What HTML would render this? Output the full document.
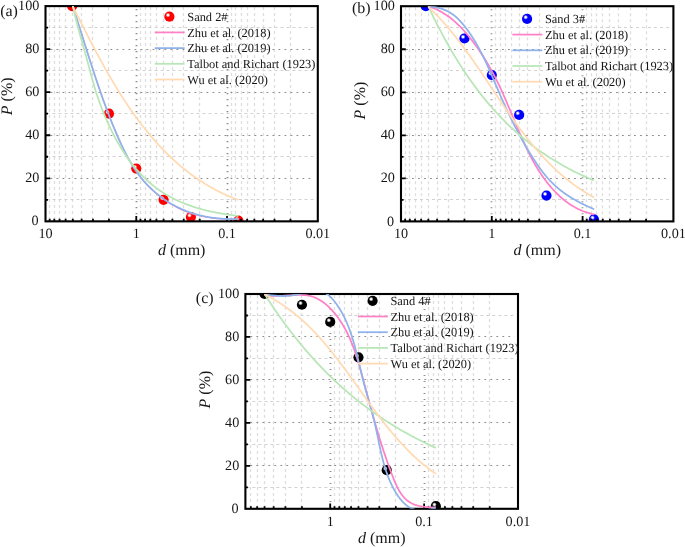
<!DOCTYPE html>
<html lang="en">
<head>
<meta charset="utf-8">
<title>Gradation curves</title>
<style>
html,body{margin:0;padding:0;background:#fff;}
body{width:685px;height:547px;overflow:hidden;font-family:"Liberation Serif",serif;}
svg{display:block;will-change:transform;transform:translateZ(0);}
</style>
</head>
<body>
<svg width="685" height="547" viewBox="0 0 685 547" font-family="'Liberation Serif', serif" fill="#161616" text-rendering="geometricPrecision">
<defs>
<radialGradient id="ball-a" cx="0.36" cy="0.34" r="0.5" fx="0.36" fy="0.34"><stop offset="0" stop-color="#ffffff"/><stop offset="0.14" stop-color="#ffffff" stop-opacity="0.95"/><stop offset="0.46" stop-color="#ff0000"/><stop offset="1" stop-color="#ff0000"/></radialGradient>
<radialGradient id="ball-b" cx="0.36" cy="0.34" r="0.5" fx="0.36" fy="0.34"><stop offset="0" stop-color="#ffffff"/><stop offset="0.14" stop-color="#ffffff" stop-opacity="0.95"/><stop offset="0.46" stop-color="#0000ff"/><stop offset="1" stop-color="#0000ff"/></radialGradient>
<radialGradient id="ball-c" cx="0.36" cy="0.34" r="0.5" fx="0.36" fy="0.34"><stop offset="0" stop-color="#ffffff"/><stop offset="0.14" stop-color="#ffffff" stop-opacity="0.95"/><stop offset="0.46" stop-color="#000000"/><stop offset="1" stop-color="#000000"/></radialGradient>
</defs>
<rect width="685" height="547" fill="#fff"/>
<g id="panel-a">
<clipPath id="clip-a"><rect x="45.5" y="6.1" width="272.3" height="215.25"/></clipPath>
<path d="M108.5 7.1 V220.35 M92.5 7.1 V220.35 M81.5 7.1 V220.35 M72.5 7.1 V220.35 M65.5 7.1 V220.35 M59.5 7.1 V220.35 M54.5 7.1 V220.35 M49.5 7.1 V220.35 M199.5 7.1 V220.35 M183.5 7.1 V220.35 M172.5 7.1 V220.35 M163.5 7.1 V220.35 M156.5 7.1 V220.35 M150.5 7.1 V220.35 M145.5 7.1 V220.35 M140.5 7.1 V220.35 M290.5 7.1 V220.35 M274.5 7.1 V220.35 M263.5 7.1 V220.35 M254.5 7.1 V220.35 M247.5 7.1 V220.35 M241.5 7.1 V220.35 M235.5 7.1 V220.35 M231.5 7.1 V220.35" fill="none" stroke="#dedede" stroke-width="1.3" stroke-dasharray="3 3"/>
<path d="M46.5 199.5 H314.3 M46.5 156.5 H314.3 M46.5 113.5 H314.3 M46.5 70.5 H314.3 M46.5 27.5 H314.3" fill="none" stroke="#d2d2d2" stroke-width="1" stroke-dasharray="3 3"/>
<path d="M136.5 9.1 V220.35 M227.5 9.1 V220.35" fill="none" stroke="#8c8c8c" stroke-width="1.8" stroke-dasharray="1.1 4.9"/>
<path d="M50.5 178.5 H314.3 M50.5 135.5 H314.3 M50.5 92.5 H314.3 M50.5 49.5 H314.3" fill="none" stroke="#8c8c8c" stroke-width="1" stroke-dasharray="1.8 4.2"/>
<g clip-path="url(#clip-a)">
<circle cx="72.12" cy="6.1" r="5.1" fill="url(#ball-a)"/>
<circle cx="108.94" cy="113.72" r="5.1" fill="url(#ball-a)"/>
<circle cx="136.27" cy="168.61" r="5.1" fill="url(#ball-a)"/>
<circle cx="163.59" cy="199.82" r="5.1" fill="url(#ball-a)"/>
<circle cx="190.91" cy="217.04" r="5.1" fill="url(#ball-a)"/>
<circle cx="238.37" cy="220.49" r="5.1" fill="url(#ball-a)"/>
</g>
<path d="M108.94 221.35 V218.75 M92.96 221.35 V218.75 M81.62 221.35 V218.75 M72.82 221.35 V218.75 M65.64 221.35 V218.75 M59.56 221.35 V218.75 M54.3 221.35 V218.75 M49.65 221.35 V218.75 M199.71 221.35 V218.75 M183.73 221.35 V218.75 M172.39 221.35 V218.75 M163.59 221.35 V218.75 M156.4 221.35 V218.75 M150.33 221.35 V218.75 M145.06 221.35 V218.75 M140.42 221.35 V218.75 M290.48 221.35 V218.75 M274.49 221.35 V218.75 M263.15 221.35 V218.75 M254.36 221.35 V218.75 M247.17 221.35 V218.75 M241.09 221.35 V218.75 M235.83 221.35 V218.75 M231.19 221.35 V218.75 M136.27 221.35 V216.05 M227.03 221.35 V216.05 M45.5 199.82 H48 M45.5 156.77 H48 M45.5 113.72 H48 M45.5 70.68 H48 M45.5 27.62 H48 M45.5 178.3 H50.3 M45.5 135.25 H50.3 M45.5 92.2 H50.3 M45.5 49.15 H50.3" fill="none" stroke="#000" stroke-width="1.8"/>
<rect x="45.5" y="6.1" width="272.3" height="215.25" fill="none" stroke="#000" stroke-width="2.1"/>
<g clip-path="url(#clip-a)" fill="none" stroke-width="1.75" stroke-linejoin="round">
<path d="M72.7 6.1 L73.16 7.52 L73.63 8.94 L74.09 10.37 L74.55 11.79 L75 13.21 L75.46 14.63 L75.92 16.05 L76.37 17.47 L76.82 18.89 L77.28 20.31 L77.73 21.73 L78.18 23.14 L78.63 24.56 L79.07 25.98 L79.52 27.39 L79.97 28.81 L80.42 30.23 L80.86 31.64 L81.31 33.05 L81.75 34.47 L82.2 35.88 L82.64 37.3 L83.09 38.71 L83.53 40.12 L83.97 41.53 L84.42 42.94 L84.86 44.35 L85.31 45.77 L85.75 47.18 L86.2 48.59 L86.64 49.99 L87.09 51.4 L87.53 52.81 L87.98 54.22 L88.43 55.63 L88.88 57.04 L89.33 58.44 L89.77 59.85 L90.23 61.25 L90.68 62.66 L91.13 64.07 L91.58 65.47 L92.04 66.88 L92.49 68.28 L92.95 69.68 L93.41 71.09 L93.87 72.49 L94.33 73.89 L94.79 75.3 L95.26 76.7 L95.72 78.1 L96.19 79.5 L96.66 80.9 L97.13 82.3 L97.6 83.71 L98.08 85.11 L98.56 86.51 L99.04 87.9 L99.52 89.3 L100 90.7 L100.49 92.1 L100.98 93.5 L101.47 94.9 L101.96 96.3 L102.46 97.69 L102.96 99.09 L103.46 100.49 L103.96 101.88 L104.47 103.28 L104.98 104.67 L105.5 106.07 L106.01 107.46 L106.53 108.86 L107.06 110.25 L107.58 111.64 L108.11 113.03 L108.65 114.42 L109.18 115.81 L109.72 117.2 L110.27 118.59 L110.82 119.98 L111.37 121.37 L111.92 122.75 L112.48 124.14 L113.05 125.52 L113.62 126.91 L114.19 128.29 L114.77 129.67 L115.35 131.05 L115.93 132.43 L116.52 133.81 L117.12 135.19 L117.72 136.56 L118.32 137.94 L118.93 139.31 L119.55 140.68 L120.17 142.05 L120.8 143.42 L121.43 144.78 L122.07 146.14 L122.72 147.5 L123.37 148.85 L124.04 150.2 L124.71 151.54 L125.39 152.88 L126.07 154.21 L126.77 155.53 L127.48 156.85 L128.19 158.17 L128.92 159.47 L129.65 160.77 L130.4 162.06 L131.16 163.34 L131.93 164.61 L132.71 165.88 L133.5 167.13 L134.3 168.38 L135.12 169.61 L135.95 170.84 L136.79 172.05 L137.65 173.26 L138.51 174.45 L139.4 175.63 L140.3 176.8 L141.21 177.96 L142.14 179.1 L143.08 180.23 L144.03 181.35 L145.01 182.46 L145.99 183.55 L146.99 184.63 L148.01 185.7 L149.04 186.75 L150.08 187.79 L151.13 188.81 L152.2 189.83 L153.29 190.83 L154.38 191.81 L155.49 192.78 L156.61 193.74 L157.75 194.68 L158.89 195.61 L160.05 196.52 L161.22 197.42 L162.41 198.31 L163.6 199.18 L164.81 200.03 L166.03 200.87 L167.26 201.69 L168.5 202.5 L169.75 203.29 L171.01 204.06 L172.29 204.82 L173.57 205.56 L174.86 206.28 L176.17 206.99 L177.48 207.67 L178.81 208.34 L180.14 208.99 L181.48 209.61 L182.84 210.22 L184.2 210.81 L185.57 211.37 L186.95 211.92 L188.34 212.44 L189.74 212.94 L191.14 213.41 L192.55 213.87 L193.98 214.3 L195.4 214.71 L196.84 215.1 L198.28 215.47 L199.73 215.82 L201.18 216.14 L202.64 216.45 L204.11 216.74 L205.58 217.01 L207.05 217.26 L208.53 217.49 L210.01 217.71 L211.49 217.91 L212.98 218.09 L214.47 218.26 L215.96 218.42 L217.45 218.55 L218.95 218.68 L220.44 218.79 L221.94 218.89 L223.43 218.97 L224.93 219.04 L226.42 219.1 L227.92 219.14 L229.41 219.17 L230.9 219.19 L232.39 219.19 L233.87 219.19 L235.36 219.17 L236.84 219.14 L238.31 219.1" stroke="#ff80c7" stroke-width="1.2"/>
<path d="M72.7 6.1 L73.16 7.52 L73.63 8.94 L74.09 10.37 L74.55 11.79 L75 13.21 L75.46 14.63 L75.92 16.05 L76.37 17.47 L76.82 18.89 L77.28 20.31 L77.73 21.73 L78.18 23.14 L78.63 24.56 L79.07 25.98 L79.52 27.39 L79.97 28.81 L80.42 30.23 L80.86 31.64 L81.31 33.05 L81.75 34.47 L82.2 35.88 L82.64 37.3 L83.09 38.71 L83.53 40.12 L83.97 41.53 L84.42 42.94 L84.86 44.35 L85.31 45.77 L85.75 47.18 L86.2 48.59 L86.64 49.99 L87.09 51.4 L87.53 52.81 L87.98 54.22 L88.43 55.63 L88.88 57.04 L89.33 58.44 L89.77 59.85 L90.23 61.25 L90.68 62.66 L91.13 64.07 L91.58 65.47 L92.04 66.88 L92.49 68.28 L92.95 69.68 L93.41 71.09 L93.87 72.49 L94.33 73.89 L94.79 75.3 L95.26 76.7 L95.72 78.1 L96.19 79.5 L96.66 80.9 L97.13 82.3 L97.6 83.71 L98.08 85.11 L98.56 86.51 L99.04 87.9 L99.52 89.3 L100 90.7 L100.49 92.1 L100.98 93.5 L101.47 94.9 L101.96 96.3 L102.46 97.69 L102.96 99.09 L103.46 100.49 L103.96 101.88 L104.47 103.28 L104.98 104.67 L105.5 106.07 L106.01 107.46 L106.53 108.86 L107.06 110.25 L107.58 111.64 L108.11 113.03 L108.65 114.42 L109.18 115.81 L109.72 117.2 L110.27 118.59 L110.82 119.98 L111.37 121.37 L111.92 122.75 L112.48 124.14 L113.05 125.52 L113.62 126.91 L114.19 128.29 L114.77 129.67 L115.35 131.05 L115.93 132.43 L116.52 133.81 L117.12 135.19 L117.72 136.56 L118.32 137.94 L118.93 139.31 L119.55 140.68 L120.17 142.05 L120.8 143.42 L121.43 144.78 L122.07 146.14 L122.72 147.5 L123.37 148.85 L124.04 150.2 L124.71 151.54 L125.39 152.87 L126.07 154.21 L126.77 155.53 L127.48 156.85 L128.19 158.16 L128.92 159.47 L129.65 160.76 L130.4 162.05 L131.16 163.33 L131.93 164.6 L132.71 165.87 L133.5 167.12 L134.3 168.37 L135.12 169.6 L135.95 170.82 L136.79 172.04 L137.65 173.24 L138.51 174.43 L139.4 175.61 L140.3 176.77 L141.21 177.93 L142.14 179.07 L143.08 180.19 L144.03 181.31 L145.01 182.41 L145.99 183.5 L146.99 184.57 L148.01 185.63 L149.04 186.67 L150.08 187.7 L151.13 188.72 L152.2 189.72 L153.29 190.71 L154.38 191.68 L155.49 192.64 L156.61 193.58 L157.75 194.51 L158.89 195.42 L160.05 196.32 L161.22 197.2 L162.41 198.06 L163.6 198.91 L164.81 199.74 L166.03 200.56 L167.26 201.36 L168.5 202.14 L169.75 202.91 L171.01 203.65 L172.29 204.39 L173.57 205.1 L174.86 205.8 L176.17 206.48 L177.48 207.14 L178.81 207.79 L180.14 208.41 L181.48 209.02 L182.84 209.61 L184.2 210.18 L185.57 210.74 L186.95 211.27 L188.34 211.79 L189.74 212.29 L191.14 212.76 L192.55 213.22 L193.98 213.66 L195.4 214.09 L196.84 214.49 L198.28 214.87 L199.73 215.24 L201.18 215.59 L202.64 215.92 L204.11 216.24 L205.58 216.53 L207.05 216.81 L208.53 217.07 L210.01 217.32 L211.49 217.55 L212.98 217.76 L214.47 217.96 L215.96 218.14 L217.45 218.31 L218.95 218.46 L220.44 218.59 L221.94 218.71 L223.43 218.81 L224.93 218.9 L226.42 218.98 L227.92 219.04 L229.41 219.08 L230.9 219.11 L232.39 219.13 L233.87 219.13 L235.36 219.12 L236.84 219.1 L238.31 219.06" stroke="#8fb2ea"/>
<path d="M72.89 6.1 L75.12 15.94 L77.44 25.33 L79.86 34.29 L82.29 42.83 L84.63 50.99 L86.8 58.78 L88.79 66.21 L90.67 73.3 L92.5 80.07 L94.35 86.52 L96.24 92.69 L98.2 98.57 L100.2 104.18 L102.23 109.53 L104.3 114.64 L106.37 119.52 L108.46 124.17 L110.55 128.62 L112.64 132.85 L114.74 136.9 L116.83 140.76 L118.93 144.44 L121.02 147.96 L123.12 151.31 L125.21 154.51 L127.31 157.57 L129.4 160.48 L131.5 163.26 L133.6 165.92 L135.69 168.45 L137.79 170.87 L139.88 173.18 L141.98 175.38 L144.07 177.48 L146.17 179.49 L148.26 181.4 L150.36 183.22 L152.46 184.97 L154.55 186.63 L156.65 188.22 L158.74 189.73 L160.84 191.18 L162.93 192.56 L165.03 193.87 L167.12 195.13 L169.22 196.33 L171.32 197.47 L173.41 198.56 L175.51 199.6 L177.6 200.6 L179.7 201.54 L181.79 202.45 L183.89 203.31 L185.98 204.14 L188.08 204.92 L190.18 205.68 L192.27 206.39 L194.37 207.08 L196.46 207.73 L198.56 208.35 L200.65 208.94 L202.75 209.51 L204.84 210.05 L206.94 210.57 L209.04 211.06 L211.13 211.53 L213.23 211.98 L215.32 212.41 L217.42 212.82 L219.51 213.21 L221.61 213.58 L223.7 213.93 L225.8 214.27 L227.9 214.6 L229.99 214.91 L232.09 215.2 L234.18 215.48 L236.28 215.75 L238.37 216.01" stroke="#b8e6b6"/>
<path d="M72.69 6.11 L73.27 7.25 L73.84 8.4 L74.42 9.54 L74.99 10.69 L75.57 11.84 L76.14 12.99 L76.72 14.14 L77.3 15.29 L77.88 16.45 L78.46 17.6 L79.04 18.76 L79.63 19.92 L80.21 21.08 L80.8 22.24 L81.38 23.4 L81.97 24.56 L82.56 25.72 L83.15 26.88 L83.74 28.05 L84.33 29.21 L84.92 30.38 L85.52 31.54 L86.11 32.71 L86.71 33.88 L87.31 35.05 L87.91 36.21 L88.51 37.38 L89.12 38.55 L89.72 39.72 L90.33 40.89 L90.93 42.06 L91.54 43.23 L92.15 44.4 L92.77 45.57 L93.38 46.74 L94 47.91 L94.62 49.08 L95.24 50.25 L95.86 51.42 L96.48 52.59 L97.11 53.75 L97.73 54.92 L98.36 56.09 L98.99 57.26 L99.63 58.42 L100.26 59.59 L100.9 60.76 L101.54 61.92 L102.18 63.08 L102.82 64.25 L103.47 65.41 L104.11 66.57 L104.76 67.73 L105.41 68.89 L106.07 70.05 L106.73 71.21 L107.38 72.36 L108.05 73.52 L108.71 74.67 L109.37 75.82 L110.04 76.97 L110.71 78.12 L111.39 79.27 L112.06 80.42 L112.74 81.56 L113.42 82.71 L114.11 83.85 L114.79 84.99 L115.48 86.13 L116.17 87.26 L116.87 88.4 L117.56 89.53 L118.26 90.66 L118.96 91.79 L119.67 92.92 L120.38 94.04 L121.09 95.16 L121.8 96.28 L122.52 97.4 L123.24 98.52 L123.96 99.63 L124.69 100.74 L125.42 101.85 L126.15 102.96 L126.88 104.06 L127.62 105.16 L128.36 106.26 L129.11 107.35 L129.86 108.44 L130.61 109.53 L131.36 110.62 L132.12 111.7 L132.88 112.79 L133.65 113.86 L134.41 114.94 L135.19 116.01 L135.96 117.08 L136.74 118.14 L137.52 119.2 L138.31 120.26 L139.09 121.32 L139.89 122.37 L140.68 123.42 L141.48 124.46 L142.29 125.5 L143.09 126.54 L143.9 127.57 L144.72 128.6 L145.54 129.63 L146.36 130.65 L147.19 131.67 L148.02 132.68 L148.85 133.69 L149.69 134.7 L150.53 135.7 L151.37 136.7 L152.22 137.69 L153.08 138.68 L153.94 139.67 L154.8 140.65 L155.66 141.62 L156.54 142.6 L157.41 143.56 L158.29 144.53 L159.17 145.49 L160.06 146.44 L160.95 147.39 L161.85 148.33 L162.75 149.27 L163.65 150.21 L164.56 151.13 L165.47 152.06 L166.39 152.98 L167.32 153.89 L168.24 154.8 L169.17 155.71 L170.11 156.61 L171.05 157.5 L172 158.39 L172.95 159.27 L173.9 160.15 L174.86 161.02 L175.83 161.89 L176.8 162.75 L177.77 163.6 L178.75 164.45 L179.73 165.3 L180.72 166.13 L181.72 166.97 L182.72 167.79 L183.72 168.61 L184.73 169.43 L185.74 170.24 L186.76 171.04 L187.78 171.83 L188.81 172.62 L189.85 173.41 L190.89 174.18 L191.93 174.96 L192.98 175.72 L194.04 176.48 L195.1 177.23 L196.16 177.97 L197.24 178.71 L198.31 179.45 L199.39 180.17 L200.48 180.89 L201.57 181.6 L202.67 182.31 L203.78 183 L204.89 183.69 L206 184.38 L207.12 185.05 L208.25 185.72 L209.38 186.39 L210.52 187.04 L211.66 187.69 L212.81 188.33 L213.97 188.96 L215.13 189.59 L216.3 190.21 L217.47 190.82 L218.65 191.42 L219.83 192.02 L221.02 192.61 L222.22 193.19 L223.42 193.76 L224.63 194.33 L225.85 194.88 L227.07 195.43 L228.29 195.97 L229.53 196.51 L230.77 197.03 L232.01 197.55 L233.26 198.06 L234.52 198.56 L235.79 199.05 L237.06 199.53 L238.33 200.01" stroke="#ffdab3"/>
</g>
<text x="38.6" y="225.45" text-anchor="end" font-size="14.2">0</text>
<text x="39.4" y="182.4" text-anchor="end" font-size="14.2">20</text>
<text x="39.4" y="139.35" text-anchor="end" font-size="14.2">40</text>
<text x="39.4" y="96.3" text-anchor="end" font-size="14.2">60</text>
<text x="39.4" y="53.25" text-anchor="end" font-size="14.2">80</text>
<text x="39.4" y="10.2" text-anchor="end" font-size="14.2">100</text>
<text x="45.5" y="238.35" text-anchor="middle" font-size="14.2">10</text>
<text x="136.27" y="238.35" text-anchor="middle" font-size="14.2">1</text>
<text x="227.03" y="238.35" text-anchor="middle" font-size="14.2">0.1</text>
<text x="317.8" y="238.35" text-anchor="middle" font-size="14.2">0.01</text>
<text x="181.65" y="255.35" text-anchor="middle" font-size="16"><tspan font-style="italic">d</tspan> (mm)</text>
<text transform="translate(12.2 96.3) rotate(-90)" text-anchor="middle" font-size="16"><tspan font-style="italic">P</tspan> (%)</text>
<text x="0.2" y="16.3" font-size="16">(a)</text>
<circle cx="169.4" cy="16.7" r="5.1" fill="url(#ball-a)"/>
<text x="187.25" y="20.8" font-size="12.4">Sand 2#</text>
<path d="M154.7 32.4 H184.6" stroke="#ff80c7" stroke-width="1.75" fill="none"/>
<text x="187.25" y="36.5" font-size="12.4">Zhu et al. (2018)</text>
<path d="M154.7 48.1 H184.6" stroke="#8fb2ea" stroke-width="1.75" fill="none"/>
<text x="187.25" y="52.2" font-size="12.4">Zhu et al. (2019)</text>
<path d="M154.7 63.8 H184.6" stroke="#b8e6b6" stroke-width="1.75" fill="none"/>
<text x="187.25" y="67.9" font-size="12.4">Talbot and Richart (1923)</text>
<path d="M154.7 79.5 H184.6" stroke="#ffdab3" stroke-width="1.75" fill="none"/>
<text x="187.25" y="83.6" font-size="12.4">Wu et al. (2020)</text>
</g>
<g id="panel-b">
<clipPath id="clip-b"><rect x="401" y="6.2" width="272.4" height="215.2"/></clipPath>
<path d="M464.5 7.2 V220.4 M448.5 7.2 V220.4 M437.5 7.2 V220.4 M428.5 7.2 V220.4 M421.5 7.2 V220.4 M415.5 7.2 V220.4 M409.5 7.2 V220.4 M405.5 7.2 V220.4 M555.5 7.2 V220.4 M539.5 7.2 V220.4 M527.5 7.2 V220.4 M519.5 7.2 V220.4 M511.5 7.2 V220.4 M505.5 7.2 V220.4 M500.5 7.2 V220.4 M495.5 7.2 V220.4 M646.5 7.2 V220.4 M630.5 7.2 V220.4 M618.5 7.2 V220.4 M609.5 7.2 V220.4 M602.5 7.2 V220.4 M596.5 7.2 V220.4 M591.5 7.2 V220.4 M586.5 7.2 V220.4" fill="none" stroke="#dedede" stroke-width="1.3" stroke-dasharray="3 3"/>
<path d="M402 199.5 H669.9 M402 156.5 H669.9 M402 113.5 H669.9 M402 70.5 H669.9 M402 27.5 H669.9" fill="none" stroke="#d2d2d2" stroke-width="1" stroke-dasharray="3 3"/>
<path d="M491.5 9.2 V220.4 M582.5 9.2 V220.4" fill="none" stroke="#8c8c8c" stroke-width="1.8" stroke-dasharray="1.1 4.9"/>
<path d="M406 178.5 H669.9 M406 135.5 H669.9 M406 92.5 H669.9 M406 49.5 H669.9" fill="none" stroke="#8c8c8c" stroke-width="1" stroke-dasharray="1.8 4.2"/>
<g clip-path="url(#clip-b)">
<circle cx="425.81" cy="6.2" r="5.1" fill="url(#ball-b)"/>
<circle cx="464.47" cy="38.48" r="5.1" fill="url(#ball-b)"/>
<circle cx="491.8" cy="75.06" r="5.1" fill="url(#ball-b)"/>
<circle cx="519.13" cy="114.88" r="5.1" fill="url(#ball-b)"/>
<circle cx="546.47" cy="195.58" r="5.1" fill="url(#ball-b)"/>
<circle cx="593.94" cy="219.25" r="5.1" fill="url(#ball-b)"/>
</g>
<path d="M464.47 221.4 V218.8 M448.48 221.4 V218.8 M437.13 221.4 V218.8 M428.33 221.4 V218.8 M421.14 221.4 V218.8 M415.07 221.4 V218.8 M409.8 221.4 V218.8 M405.15 221.4 V218.8 M555.27 221.4 V218.8 M539.28 221.4 V218.8 M527.93 221.4 V218.8 M519.13 221.4 V218.8 M511.94 221.4 V218.8 M505.87 221.4 V218.8 M500.6 221.4 V218.8 M495.95 221.4 V218.8 M646.07 221.4 V218.8 M630.08 221.4 V218.8 M618.73 221.4 V218.8 M609.93 221.4 V218.8 M602.74 221.4 V218.8 M596.67 221.4 V218.8 M591.4 221.4 V218.8 M586.75 221.4 V218.8 M491.8 221.4 V216.1 M582.6 221.4 V216.1 M401 199.88 H403.5 M401 156.84 H403.5 M401 113.8 H403.5 M401 70.76 H403.5 M401 27.72 H403.5 M401 178.36 H405.8 M401 135.32 H405.8 M401 92.28 H405.8 M401 49.24 H405.8" fill="none" stroke="#000" stroke-width="1.8"/>
<rect x="401" y="6.2" width="272.4" height="215.2" fill="none" stroke="#000" stroke-width="2.1"/>
<g clip-path="url(#clip-b)" fill="none" stroke-width="1.75" stroke-linejoin="round">
<path d="M428.3 6.39 L429.66 6.81 L431 7.26 L432.32 7.73 L433.63 8.24 L434.91 8.77 L436.19 9.32 L437.44 9.9 L438.68 10.51 L439.91 11.14 L441.11 11.8 L442.31 12.47 L443.48 13.18 L444.65 13.9 L445.8 14.64 L446.93 15.41 L448.05 16.2 L449.16 17 L450.25 17.82 L451.33 18.67 L452.39 19.53 L453.45 20.41 L454.49 21.3 L455.52 22.21 L456.53 23.14 L457.54 24.08 L458.53 25.03 L459.51 26 L460.48 26.98 L461.44 27.98 L462.39 28.98 L463.33 30 L464.26 31.02 L465.17 32.06 L466.08 33.11 L466.98 34.16 L467.87 35.23 L468.75 36.3 L469.62 37.38 L470.49 38.46 L471.34 39.55 L472.19 40.64 L473.03 41.75 L473.86 42.85 L474.69 43.96 L475.5 45.08 L476.31 46.2 L477.11 47.33 L477.91 48.46 L478.69 49.6 L479.47 50.74 L480.24 51.89 L481.01 53.04 L481.77 54.19 L482.52 55.35 L483.26 56.52 L484 57.69 L484.73 58.86 L485.45 60.04 L486.17 61.22 L486.88 62.41 L487.58 63.6 L488.28 64.8 L488.97 65.99 L489.65 67.2 L490.33 68.4 L491.01 69.62 L491.67 70.83 L492.34 72.05 L492.99 73.27 L493.64 74.49 L494.29 75.72 L494.92 76.95 L495.56 78.19 L496.19 79.43 L496.81 80.67 L497.43 81.91 L498.04 83.16 L498.65 84.41 L499.25 85.66 L499.85 86.92 L500.44 88.18 L501.03 89.44 L501.62 90.71 L502.2 91.97 L502.77 93.24 L503.34 94.51 L503.91 95.79 L504.48 97.06 L505.04 98.34 L505.59 99.62 L506.15 100.9 L506.7 102.18 L507.25 103.47 L507.79 104.75 L508.34 106.04 L508.88 107.33 L509.42 108.61 L509.96 109.9 L510.49 111.19 L511.03 112.48 L511.57 113.77 L512.1 115.06 L512.63 116.35 L513.17 117.64 L513.7 118.93 L514.24 120.22 L514.77 121.51 L515.31 122.8 L515.85 124.09 L516.38 125.38 L516.92 126.66 L517.46 127.95 L518.01 129.23 L518.55 130.51 L519.1 131.79 L519.65 133.07 L520.2 134.35 L520.75 135.62 L521.31 136.9 L521.87 138.17 L522.44 139.44 L523.01 140.7 L523.58 141.96 L524.16 143.22 L524.74 144.48 L525.32 145.74 L525.92 146.99 L526.51 148.23 L527.11 149.48 L527.72 150.72 L528.33 151.96 L528.95 153.19 L529.58 154.42 L530.21 155.64 L530.85 156.86 L531.49 158.08 L532.15 159.29 L532.81 160.5 L533.47 161.7 L534.15 162.9 L534.83 164.09 L535.52 165.28 L536.22 166.46 L536.93 167.64 L537.65 168.81 L538.37 169.97 L539.11 171.13 L539.86 172.28 L540.61 173.43 L541.38 174.57 L542.15 175.7 L542.94 176.83 L543.73 177.95 L544.54 179.07 L545.36 180.17 L546.19 181.27 L547.03 182.37 L547.88 183.45 L548.75 184.53 L549.62 185.59 L550.51 186.65 L551.41 187.7 L552.32 188.73 L553.25 189.76 L554.18 190.77 L555.13 191.77 L556.1 192.76 L557.07 193.73 L558.06 194.69 L559.06 195.64 L560.07 196.57 L561.1 197.48 L562.14 198.38 L563.19 199.26 L564.26 200.13 L565.34 200.98 L566.43 201.8 L567.54 202.62 L568.66 203.41 L569.8 204.18 L570.95 204.93 L572.11 205.66 L573.29 206.37 L574.49 207.06 L575.69 207.73 L576.92 208.37 L578.16 208.99 L579.41 209.58 L580.68 210.15 L581.96 210.7 L583.26 211.22 L584.57 211.71 L585.9 212.18 L587.25 212.62 L588.61 213.03 L589.99 213.42 L591.38 213.78 L592.79 214.1 L594.22 214.4" stroke="#ff80c7"/>
<path d="M428.3 6.4 L429.67 6.48 L431.05 6.6 L432.44 6.75 L433.82 6.94 L435.19 7.16 L436.57 7.43 L437.93 7.73 L439.28 8.07 L440.63 8.45 L441.95 8.87 L443.26 9.33 L444.55 9.83 L445.82 10.37 L447.06 10.95 L448.28 11.58 L449.47 12.24 L450.63 12.95 L451.76 13.7 L452.87 14.48 L453.95 15.3 L455 16.14 L456.03 17.02 L457.04 17.93 L458.03 18.87 L459 19.83 L459.94 20.81 L460.87 21.81 L461.78 22.84 L462.67 23.88 L463.55 24.93 L464.41 26 L465.26 27.07 L466.1 28.16 L466.92 29.25 L467.73 30.36 L468.53 31.47 L469.31 32.58 L470.09 33.71 L470.85 34.84 L471.61 35.98 L472.35 37.12 L473.08 38.28 L473.8 39.43 L474.52 40.6 L475.22 41.77 L475.91 42.94 L476.6 44.13 L477.27 45.31 L477.94 46.51 L478.6 47.7 L479.25 48.91 L479.9 50.11 L480.53 51.32 L481.16 52.54 L481.78 53.76 L482.4 54.99 L483.01 56.21 L483.61 57.45 L484.21 58.68 L484.81 59.92 L485.39 61.16 L485.98 62.41 L486.55 63.66 L487.13 64.91 L487.7 66.16 L488.26 67.42 L488.83 68.67 L489.39 69.93 L489.94 71.19 L490.5 72.46 L491.05 73.72 L491.6 74.98 L492.14 76.25 L492.69 77.52 L493.23 78.79 L493.77 80.05 L494.32 81.32 L494.86 82.59 L495.4 83.86 L495.94 85.13 L496.48 86.4 L497.03 87.67 L497.57 88.93 L498.11 90.2 L498.66 91.46 L499.21 92.73 L499.75 93.99 L500.31 95.25 L500.86 96.51 L501.41 97.77 L501.97 99.02 L502.53 100.28 L503.09 101.53 L503.66 102.79 L504.22 104.04 L504.79 105.29 L505.36 106.53 L505.94 107.78 L506.51 109.02 L507.09 110.27 L507.67 111.51 L508.26 112.75 L508.84 113.98 L509.43 115.22 L510.03 116.45 L510.62 117.68 L511.22 118.92 L511.83 120.14 L512.43 121.37 L513.04 122.6 L513.65 123.82 L514.27 125.04 L514.89 126.26 L515.51 127.48 L516.14 128.69 L516.77 129.91 L517.41 131.12 L518.04 132.33 L518.69 133.53 L519.33 134.74 L519.98 135.94 L520.64 137.15 L521.29 138.34 L521.96 139.54 L522.62 140.74 L523.29 141.93 L523.97 143.12 L524.65 144.31 L525.33 145.49 L526.02 146.68 L526.72 147.86 L527.42 149.04 L528.12 150.22 L528.83 151.39 L529.54 152.56 L530.26 153.73 L530.98 154.9 L531.71 156.07 L532.44 157.23 L533.18 158.39 L533.93 159.55 L534.68 160.7 L535.44 161.85 L536.2 162.99 L536.97 164.13 L537.75 165.26 L538.54 166.39 L539.34 167.51 L540.14 168.63 L540.95 169.73 L541.78 170.83 L542.61 171.92 L543.45 173 L544.31 174.07 L545.17 175.14 L546.05 176.19 L546.93 177.23 L547.83 178.26 L548.74 179.28 L549.67 180.29 L550.61 181.28 L551.56 182.26 L552.52 183.23 L553.5 184.18 L554.49 185.12 L555.5 186.05 L556.52 186.96 L557.56 187.85 L558.61 188.73 L559.67 189.6 L560.75 190.45 L561.84 191.29 L562.94 192.11 L564.05 192.92 L565.17 193.72 L566.31 194.5 L567.45 195.27 L568.61 196.02 L569.77 196.77 L570.94 197.5 L572.12 198.22 L573.31 198.92 L574.5 199.62 L575.7 200.3 L576.91 200.97 L578.12 201.62 L579.34 202.27 L580.56 202.91 L581.79 203.53 L583.02 204.14 L584.26 204.75 L585.49 205.34 L586.73 205.92 L587.98 206.49 L589.22 207.05 L590.46 207.6 L591.71 208.15 L592.95 208.68 L594.2 209.2" stroke="#8fb2ea"/>
<path d="M428.33 6.2 L430.43 10.67 L432.53 15.05 L434.62 19.34 L436.72 23.54 L438.82 27.65 L440.91 31.67 L443.01 35.62 L445.1 39.48 L447.2 43.26 L449.3 46.96 L451.39 50.58 L453.49 54.13 L455.59 57.61 L457.68 61.01 L459.78 64.35 L461.87 67.61 L463.97 70.81 L466.07 73.93 L468.16 77 L470.26 80 L472.36 82.94 L474.45 85.81 L476.55 88.63 L478.65 91.39 L480.74 94.09 L482.84 96.74 L484.93 99.33 L487.03 101.87 L489.13 104.35 L491.22 106.78 L493.32 109.16 L495.42 111.5 L497.51 113.78 L499.61 116.02 L501.71 118.21 L503.8 120.35 L505.9 122.45 L507.99 124.51 L510.09 126.52 L512.19 128.49 L514.28 130.42 L516.38 132.31 L518.48 134.16 L520.57 135.98 L522.67 137.75 L524.77 139.49 L526.86 141.19 L528.96 142.86 L531.05 144.49 L533.15 146.09 L535.25 147.65 L537.34 149.19 L539.44 150.69 L541.54 152.16 L543.63 153.59 L545.73 155 L547.82 156.38 L549.92 157.73 L552.02 159.06 L554.11 160.35 L556.21 161.62 L558.31 162.86 L560.4 164.08 L562.5 165.27 L564.6 166.44 L566.69 167.58 L568.79 168.7 L570.88 169.79 L572.98 170.86 L575.08 171.91 L577.17 172.94 L579.27 173.95 L581.37 174.94 L583.46 175.9 L585.56 176.85 L587.66 177.77 L589.75 178.68 L591.85 179.57 L593.94 180.44" stroke="#b8e6b6"/>
<path d="M428.3 6.8 L429.23 7.68 L430.16 8.57 L431.07 9.46 L431.99 10.35 L432.89 11.25 L433.8 12.16 L434.69 13.06 L435.59 13.98 L436.47 14.89 L437.36 15.82 L438.24 16.74 L439.11 17.67 L439.98 18.61 L440.84 19.54 L441.7 20.49 L442.56 21.43 L443.41 22.38 L444.26 23.34 L445.1 24.29 L445.94 25.26 L446.78 26.22 L447.61 27.19 L448.43 28.16 L449.26 29.14 L450.08 30.12 L450.89 31.1 L451.71 32.08 L452.51 33.07 L453.32 34.06 L454.12 35.06 L454.92 36.06 L455.71 37.06 L456.51 38.06 L457.3 39.07 L458.08 40.08 L458.86 41.09 L459.64 42.11 L460.42 43.13 L461.19 44.15 L461.96 45.17 L462.73 46.19 L463.5 47.22 L464.26 48.25 L465.02 49.28 L465.78 50.32 L466.54 51.36 L467.29 52.39 L468.04 53.44 L468.79 54.48 L469.54 55.52 L470.28 56.57 L471.03 57.62 L471.77 58.67 L472.51 59.72 L473.25 60.77 L473.98 61.83 L474.72 62.88 L475.45 63.94 L476.18 65 L476.91 66.06 L477.64 67.12 L478.37 68.18 L479.09 69.25 L479.82 70.31 L480.54 71.38 L481.26 72.44 L481.98 73.51 L482.7 74.58 L483.42 75.65 L484.14 76.72 L484.86 77.79 L485.58 78.86 L486.3 79.93 L487.01 81 L487.73 82.07 L488.45 83.14 L489.16 84.22 L489.88 85.29 L490.59 86.36 L491.31 87.43 L492.02 88.51 L492.74 89.58 L493.45 90.65 L494.17 91.72 L494.89 92.8 L495.6 93.87 L496.32 94.94 L497.03 96.01 L497.75 97.08 L498.47 98.15 L499.19 99.22 L499.91 100.29 L500.63 101.36 L501.35 102.43 L502.07 103.49 L502.79 104.56 L503.52 105.62 L504.24 106.69 L504.97 107.75 L505.7 108.81 L506.42 109.87 L507.15 110.93 L507.89 111.99 L508.62 113.04 L509.35 114.1 L510.09 115.15 L510.83 116.2 L511.57 117.25 L512.31 118.3 L513.05 119.35 L513.8 120.39 L514.54 121.43 L515.29 122.47 L516.04 123.51 L516.8 124.55 L517.55 125.58 L518.31 126.62 L519.07 127.65 L519.84 128.67 L520.6 129.7 L521.37 130.72 L522.14 131.74 L522.91 132.76 L523.69 133.77 L524.47 134.79 L525.25 135.79 L526.03 136.8 L526.82 137.8 L527.61 138.8 L528.41 139.8 L529.2 140.8 L530 141.79 L530.81 142.78 L531.62 143.76 L532.43 144.74 L533.24 145.72 L534.06 146.69 L534.88 147.66 L535.7 148.63 L536.53 149.59 L537.36 150.55 L538.2 151.51 L539.04 152.46 L539.88 153.41 L540.73 154.35 L541.58 155.29 L542.44 156.23 L543.3 157.16 L544.16 158.08 L545.03 159.01 L545.91 159.92 L546.79 160.84 L547.67 161.75 L548.55 162.65 L549.45 163.55 L550.34 164.45 L551.24 165.34 L552.15 166.22 L553.06 167.1 L553.98 167.98 L554.9 168.85 L555.82 169.71 L556.75 170.57 L557.69 171.43 L558.63 172.28 L559.58 173.12 L560.53 173.96 L561.49 174.79 L562.45 175.62 L563.42 176.44 L564.39 177.26 L565.37 178.07 L566.36 178.88 L567.35 179.67 L568.35 180.47 L569.35 181.25 L570.36 182.03 L571.38 182.81 L572.4 183.58 L573.43 184.34 L574.46 185.1 L575.5 185.84 L576.55 186.59 L577.6 187.32 L578.66 188.05 L579.73 188.78 L580.8 189.49 L581.88 190.2 L582.96 190.9 L584.06 191.6 L585.16 192.29 L586.26 192.97 L587.38 193.64 L588.5 194.31 L589.63 194.97 L590.76 195.62 L591.9 196.27 L593.05 196.91 L594.21 197.54" stroke="#ffdab3"/>
</g>
<text x="394.1" y="225.5" text-anchor="end" font-size="14.2">0</text>
<text x="394.9" y="182.46" text-anchor="end" font-size="14.2">20</text>
<text x="394.9" y="139.42" text-anchor="end" font-size="14.2">40</text>
<text x="394.9" y="96.38" text-anchor="end" font-size="14.2">60</text>
<text x="394.9" y="53.34" text-anchor="end" font-size="14.2">80</text>
<text x="394.9" y="10.3" text-anchor="end" font-size="14.2">100</text>
<text x="401" y="238.4" text-anchor="middle" font-size="14.2">10</text>
<text x="491.8" y="238.4" text-anchor="middle" font-size="14.2">1</text>
<text x="582.6" y="238.4" text-anchor="middle" font-size="14.2">0.1</text>
<text x="673.4" y="238.4" text-anchor="middle" font-size="14.2">0.01</text>
<text x="537.2" y="255.4" text-anchor="middle" font-size="16"><tspan font-style="italic">d</tspan> (mm)</text>
<text transform="translate(365.2 100.6) rotate(-90)" text-anchor="middle" font-size="16"><tspan font-style="italic">P</tspan> (%)</text>
<text x="352" y="12.8" font-size="16">(b)</text>
<circle cx="527.1" cy="18.9" r="5.1" fill="url(#ball-b)"/>
<text x="544.95" y="23" font-size="12.4">Sand 3#</text>
<path d="M512.4 34.6 H542.3" stroke="#ff80c7" stroke-width="1.75" fill="none"/>
<text x="544.95" y="38.7" font-size="12.4">Zhu et al. (2018)</text>
<path d="M512.4 50.3 H542.3" stroke="#8fb2ea" stroke-width="1.75" fill="none"/>
<text x="544.95" y="54.4" font-size="12.4">Zhu et al. (2019)</text>
<path d="M512.4 66 H542.3" stroke="#b8e6b6" stroke-width="1.75" fill="none"/>
<text x="544.95" y="70.1" font-size="12.4">Talbot and Richart (1923)</text>
<path d="M512.4 81.7 H542.3" stroke="#ffdab3" stroke-width="1.75" fill="none"/>
<text x="544.95" y="85.8" font-size="12.4">Wu et al. (2020)</text>
</g>
<g id="panel-c">
<clipPath id="clip-c"><rect x="245.4" y="294" width="272.6" height="214.8"/></clipPath>
<path d="M301.5 295 V507.8 M285.5 295 V507.8 M273.5 295 V507.8 M264.5 295 V507.8 M257.5 295 V507.8 M250.5 295 V507.8 M395.5 295 V507.8 M379.5 295 V507.8 M367.5 295 V507.8 M358.5 295 V507.8 M351.5 295 V507.8 M344.5 295 V507.8 M339.5 295 V507.8 M334.5 295 V507.8 M489.5 295 V507.8 M473.5 295 V507.8 M461.5 295 V507.8 M452.5 295 V507.8 M444.5 295 V507.8 M438.5 295 V507.8 M433.5 295 V507.8 M428.5 295 V507.8" fill="none" stroke="#dedede" stroke-width="1.3" stroke-dasharray="3 3"/>
<path d="M246.4 487.5 H514.5 M246.4 444.5 H514.5 M246.4 401.5 H514.5 M246.4 358.5 H514.5 M246.4 315.5 H514.5" fill="none" stroke="#d2d2d2" stroke-width="1" stroke-dasharray="3 3"/>
<path d="M330.5 297 V507.8 M424.5 297 V507.8" fill="none" stroke="#8c8c8c" stroke-width="1.8" stroke-dasharray="1.1 4.9"/>
<path d="M250.4 465.5 H514.5 M250.4 422.5 H514.5 M250.4 379.5 H514.5 M250.4 336.5 H514.5" fill="none" stroke="#8c8c8c" stroke-width="1" stroke-dasharray="1.8 4.2"/>
<g clip-path="url(#clip-c)">
<circle cx="264.57" cy="294" r="5.1" fill="url(#ball-c)"/>
<circle cx="301.93" cy="304.74" r="5.1" fill="url(#ball-c)"/>
<circle cx="330.2" cy="321.92" r="5.1" fill="url(#ball-c)"/>
<circle cx="358.47" cy="357.37" r="5.1" fill="url(#ball-c)"/>
<circle cx="386.73" cy="470.14" r="5.1" fill="url(#ball-c)"/>
<circle cx="435.83" cy="506.22" r="5.1" fill="url(#ball-c)"/>
</g>
<path d="M301.93 508.8 V506.2 M285.4 508.8 V506.2 M273.67 508.8 V506.2 M264.57 508.8 V506.2 M257.13 508.8 V506.2 M250.85 508.8 V506.2 M395.83 508.8 V506.2 M379.3 508.8 V506.2 M367.57 508.8 V506.2 M358.47 508.8 V506.2 M351.03 508.8 V506.2 M344.75 508.8 V506.2 M339.3 508.8 V506.2 M334.5 508.8 V506.2 M489.73 508.8 V506.2 M473.2 508.8 V506.2 M461.47 508.8 V506.2 M452.37 508.8 V506.2 M444.93 508.8 V506.2 M438.65 508.8 V506.2 M433.2 508.8 V506.2 M428.4 508.8 V506.2 M330.2 508.8 V503.5 M424.1 508.8 V503.5 M245.4 487.32 H247.9 M245.4 444.36 H247.9 M245.4 401.4 H247.9 M245.4 358.44 H247.9 M245.4 315.48 H247.9 M245.4 465.84 H250.2 M245.4 422.88 H250.2 M245.4 379.92 H250.2 M245.4 336.96 H250.2" fill="none" stroke="#000" stroke-width="1.8"/>
<rect x="245.4" y="294" width="272.6" height="214.8" fill="none" stroke="#000" stroke-width="2.1"/>
<g clip-path="url(#clip-c)" fill="none" stroke-width="1.75" stroke-linejoin="round">
<path d="M264.6 294.5 L265.98 294.89 L267.39 295.21 L268.83 295.46 L270.3 295.67 L271.79 295.82 L273.3 295.92 L274.84 295.98 L276.39 296 L277.96 295.99 L279.54 295.95 L281.14 295.89 L282.75 295.81 L284.37 295.71 L285.99 295.61 L287.62 295.49 L289.25 295.38 L290.89 295.27 L292.52 295.17 L294.15 295.08 L295.78 295.01 L297.4 294.96 L299.01 294.94 L300.61 294.96 L302.2 295 L303.78 295.09 L305.34 295.23 L306.88 295.41 L308.4 295.66 L309.9 295.96 L311.38 296.32 L312.83 296.75 L314.26 297.26 L315.66 297.83 L317.03 298.46 L318.37 299.16 L319.69 299.91 L320.99 300.71 L322.26 301.56 L323.5 302.46 L324.72 303.4 L325.91 304.37 L327.07 305.39 L328.21 306.43 L329.33 307.5 L330.42 308.6 L331.49 309.71 L332.53 310.85 L333.55 312 L334.54 313.16 L335.51 314.35 L336.46 315.55 L337.39 316.76 L338.29 317.99 L339.17 319.23 L340.04 320.49 L340.88 321.76 L341.7 323.05 L342.5 324.34 L343.29 325.66 L344.05 326.98 L344.8 328.31 L345.53 329.66 L346.24 331.02 L346.94 332.38 L347.62 333.76 L348.28 335.15 L348.93 336.55 L349.56 337.96 L350.18 339.38 L350.79 340.8 L351.38 342.23 L351.96 343.67 L352.52 345.12 L353.08 346.58 L353.62 348.04 L354.16 349.51 L354.68 350.98 L355.19 352.46 L355.69 353.95 L356.18 355.44 L356.67 356.93 L357.14 358.43 L357.61 359.93 L358.07 361.44 L358.53 362.95 L358.98 364.46 L359.42 365.97 L359.85 367.49 L360.28 369 L360.71 370.52 L361.13 372.04 L361.55 373.55 L361.97 375.07 L362.38 376.59 L362.8 378.11 L363.21 379.62 L363.61 381.14 L364.02 382.65 L364.43 384.16 L364.83 385.67 L365.24 387.17 L365.64 388.68 L366.05 390.18 L366.45 391.69 L366.86 393.19 L367.26 394.69 L367.66 396.19 L368.07 397.68 L368.47 399.18 L368.87 400.67 L369.28 402.17 L369.68 403.66 L370.09 405.15 L370.5 406.64 L370.9 408.13 L371.31 409.61 L371.72 411.1 L372.13 412.59 L372.54 414.07 L372.96 415.55 L373.37 417.04 L373.79 418.52 L374.21 420 L374.63 421.48 L375.05 422.96 L375.47 424.43 L375.9 425.91 L376.33 427.39 L376.76 428.86 L377.19 430.34 L377.63 431.81 L378.07 433.29 L378.51 434.76 L378.96 436.24 L379.4 437.71 L379.86 439.18 L380.31 440.65 L380.77 442.12 L381.23 443.6 L381.7 445.07 L382.17 446.54 L382.64 448.01 L383.12 449.48 L383.6 450.95 L384.08 452.42 L384.57 453.89 L385.07 455.36 L385.57 456.83 L386.07 458.3 L386.58 459.77 L387.09 461.23 L387.61 462.7 L388.13 464.17 L388.66 465.64 L389.19 467.11 L389.73 468.58 L390.28 470.06 L390.83 471.53 L391.38 473 L391.95 474.47 L392.51 475.94 L393.09 477.41 L393.67 478.88 L394.26 480.35 L394.87 481.81 L395.48 483.26 L396.12 484.7 L396.78 486.11 L397.46 487.51 L398.17 488.88 L398.91 490.23 L399.68 491.55 L400.49 492.83 L401.33 494.07 L402.21 495.27 L403.14 496.43 L404.11 497.54 L405.14 498.61 L406.21 499.61 L407.34 500.56 L408.52 501.45 L409.77 502.28 L411.07 503.03 L412.45 503.72 L413.89 504.33 L415.38 504.88 L416.93 505.36 L418.52 505.77 L420.13 506.13 L421.77 506.44 L423.42 506.7 L425.07 506.91 L426.72 507.08 L428.34 507.22 L429.95 507.32 L431.51 507.4 L433.04 507.45 L434.5 507.48 L435.91 507.49" stroke="#ff80c7"/>
<path d="M264.6 294.5 L266.25 294.7 L267.89 294.9 L269.52 295.09 L271.15 295.27 L272.76 295.44 L274.37 295.59 L275.98 295.73 L277.58 295.84 L279.18 295.93 L280.78 295.99 L282.38 296.02 L283.98 296.02 L285.59 295.98 L287.2 295.91 L288.81 295.8 L290.44 295.64 L292.07 295.44 L293.71 295.19 L295.36 294.89 L297.02 294.54 L298.69 294.16 L300.37 293.75 L302.05 293.33 L303.73 292.9 L305.41 292.49 L307.08 292.11 L308.75 291.76 L310.41 291.45 L312.06 291.21 L313.69 291.04 L315.3 290.95 L316.89 290.95 L318.46 291.04 L319.98 291.24 L321.47 291.54 L322.92 291.95 L324.32 292.49 L325.67 293.15 L326.96 293.94 L328.19 294.84 L329.38 295.85 L330.52 296.94 L331.62 298.09 L332.68 299.29 L333.71 300.53 L334.72 301.78 L335.69 303.05 L336.64 304.34 L337.56 305.65 L338.45 306.97 L339.32 308.31 L340.16 309.67 L340.98 311.04 L341.78 312.43 L342.55 313.83 L343.3 315.24 L344.03 316.67 L344.74 318.11 L345.43 319.56 L346.09 321.02 L346.74 322.5 L347.37 323.99 L347.99 325.49 L348.58 327 L349.16 328.51 L349.72 330.04 L350.27 331.58 L350.81 333.12 L351.33 334.68 L351.84 336.24 L352.33 337.8 L352.81 339.38 L353.28 340.96 L353.75 342.54 L354.2 344.13 L354.64 345.73 L355.07 347.33 L355.5 348.93 L355.92 350.54 L356.33 352.15 L356.74 353.76 L357.14 355.37 L357.53 356.99 L357.92 358.61 L358.31 360.22 L358.7 361.84 L359.08 363.46 L359.47 365.07 L359.85 366.69 L360.23 368.3 L360.61 369.91 L360.99 371.52 L361.38 373.12 L361.77 374.73 L362.16 376.32 L362.55 377.92 L362.95 379.5 L363.36 381.09 L363.77 382.66 L364.18 384.23 L364.6 385.8 L365.02 387.36 L365.45 388.92 L365.88 390.48 L366.31 392.03 L366.74 393.58 L367.18 395.13 L367.61 396.67 L368.05 398.21 L368.48 399.75 L368.92 401.3 L369.35 402.84 L369.79 404.38 L370.22 405.92 L370.65 407.46 L371.07 409 L371.49 410.54 L371.91 412.09 L372.32 413.64 L372.73 415.19 L373.13 416.74 L373.53 418.3 L373.92 419.86 L374.31 421.42 L374.68 422.99 L375.05 424.56 L375.41 426.14 L375.77 427.72 L376.11 429.31 L376.46 430.9 L376.8 432.5 L377.13 434.09 L377.47 435.69 L377.8 437.3 L378.13 438.9 L378.46 440.51 L378.79 442.11 L379.13 443.72 L379.47 445.33 L379.81 446.93 L380.16 448.54 L380.51 450.14 L380.87 451.75 L381.23 453.35 L381.61 454.95 L381.99 456.55 L382.39 458.14 L382.79 459.74 L383.21 461.32 L383.63 462.91 L384.08 464.49 L384.53 466.06 L385 467.63 L385.49 469.2 L386 470.76 L386.52 472.31 L387.06 473.85 L387.62 475.39 L388.21 476.92 L388.81 478.44 L389.43 479.96 L390.08 481.46 L390.76 482.96 L391.45 484.45 L392.18 485.93 L392.93 487.39 L393.71 488.85 L394.51 490.3 L395.35 491.73 L396.21 493.15 L397.11 494.56 L398.04 495.94 L399 497.3 L400 498.62 L401.03 499.9 L402.09 501.13 L403.2 502.32 L404.34 503.44 L405.51 504.5 L406.73 505.5 L407.99 506.41 L409.29 507.25 L410.63 508 L412.01 508.65 L413.43 509.21 L414.9 509.66 L416.42 510 L417.97 510.24 L419.56 510.38 L421.17 510.43 L422.81 510.39 L424.46 510.27 L426.12 510.07 L427.78 509.81 L429.44 509.48 L431.09 509.1 L432.72 508.66 L434.33 508.18 L435.91 507.66" stroke="#8fb2ea"/>
<path d="M264.57 294 L266.73 297.4 L268.9 300.74 L271.07 304.04 L273.24 307.27 L275.41 310.46 L277.57 313.6 L279.74 316.69 L281.91 319.73 L284.08 322.72 L286.25 325.66 L288.41 328.56 L290.58 331.41 L292.75 334.22 L294.92 336.98 L297.09 339.7 L299.25 342.38 L301.42 345.01 L303.59 347.6 L305.76 350.15 L307.93 352.66 L310.09 355.13 L312.26 357.56 L314.43 359.96 L316.6 362.31 L318.76 364.63 L320.93 366.91 L323.1 369.15 L325.27 371.36 L327.44 373.54 L329.6 375.68 L331.77 377.79 L333.94 379.86 L336.11 381.9 L338.28 383.91 L340.44 385.88 L342.61 387.83 L344.78 389.74 L346.95 391.62 L349.12 393.48 L351.28 395.3 L353.45 397.1 L355.62 398.87 L357.79 400.61 L359.95 402.32 L362.12 404 L364.29 405.66 L366.46 407.29 L368.63 408.9 L370.79 410.48 L372.96 412.03 L375.13 413.57 L377.3 415.07 L379.47 416.55 L381.63 418.01 L383.8 419.45 L385.97 420.86 L388.14 422.26 L390.31 423.62 L392.47 424.97 L394.64 426.3 L396.81 427.6 L398.98 428.89 L401.15 430.15 L403.31 431.4 L405.48 432.62 L407.65 433.83 L409.82 435.01 L411.98 436.18 L414.15 437.33 L416.32 438.46 L418.49 439.57 L420.66 440.67 L422.82 441.75 L424.99 442.81 L427.16 443.85 L429.33 444.88 L431.5 445.89 L433.66 446.89 L435.83 447.87" stroke="#b8e6b6"/>
<path d="M264.6 294.49 L265.76 295.06 L266.92 295.65 L268.07 296.24 L269.21 296.84 L270.34 297.45 L271.46 298.06 L272.58 298.69 L273.69 299.32 L274.79 299.96 L275.89 300.61 L276.97 301.27 L278.05 301.93 L279.13 302.6 L280.19 303.28 L281.25 303.96 L282.3 304.66 L283.35 305.36 L284.38 306.07 L285.42 306.78 L286.44 307.5 L287.46 308.23 L288.47 308.97 L289.47 309.71 L290.47 310.46 L291.47 311.21 L292.45 311.98 L293.43 312.74 L294.41 313.52 L295.37 314.3 L296.34 315.09 L297.29 315.88 L298.24 316.68 L299.19 317.49 L300.13 318.3 L301.06 319.12 L301.99 319.94 L302.91 320.77 L303.83 321.6 L304.74 322.44 L305.65 323.29 L306.55 324.14 L307.45 324.99 L308.34 325.86 L309.23 326.72 L310.11 327.59 L310.99 328.47 L311.87 329.35 L312.74 330.24 L313.6 331.13 L314.46 332.03 L315.32 332.93 L316.17 333.83 L317.02 334.74 L317.86 335.65 L318.7 336.57 L319.53 337.49 L320.37 338.42 L321.19 339.35 L322.02 340.28 L322.84 341.22 L323.65 342.16 L324.47 343.11 L325.28 344.06 L326.08 345.01 L326.89 345.97 L327.69 346.93 L328.49 347.89 L329.28 348.86 L330.07 349.83 L330.86 350.8 L331.64 351.77 L332.43 352.75 L333.21 353.73 L333.98 354.72 L334.76 355.71 L335.53 356.7 L336.3 357.69 L337.07 358.68 L337.84 359.68 L338.6 360.68 L339.36 361.68 L340.12 362.69 L340.88 363.69 L341.63 364.7 L342.39 365.71 L343.14 366.72 L343.89 367.73 L344.64 368.75 L345.39 369.77 L346.14 370.79 L346.88 371.81 L347.62 372.83 L348.37 373.85 L349.11 374.87 L349.85 375.9 L350.59 376.93 L351.33 377.95 L352.07 378.98 L352.8 380.01 L353.54 381.04 L354.28 382.07 L355.01 383.1 L355.75 384.13 L356.48 385.17 L357.22 386.2 L357.95 387.23 L358.69 388.26 L359.42 389.3 L360.16 390.33 L360.89 391.36 L361.63 392.4 L362.36 393.43 L363.1 394.46 L363.83 395.5 L364.57 396.53 L365.31 397.56 L366.04 398.59 L366.78 399.62 L367.52 400.65 L368.26 401.68 L369 402.71 L369.74 403.74 L370.49 404.76 L371.23 405.79 L371.98 406.81 L372.72 407.83 L373.47 408.86 L374.22 409.88 L374.97 410.89 L375.73 411.91 L376.48 412.93 L377.24 413.94 L378 414.95 L378.76 415.96 L379.52 416.97 L380.28 417.98 L381.05 418.98 L381.82 419.98 L382.59 420.98 L383.36 421.98 L384.14 422.97 L384.92 423.96 L385.7 424.95 L386.48 425.94 L387.27 426.93 L388.06 427.91 L388.85 428.89 L389.65 429.86 L390.44 430.83 L391.25 431.8 L392.05 432.77 L392.86 433.73 L393.67 434.69 L394.48 435.65 L395.3 436.6 L396.12 437.55 L396.95 438.5 L397.78 439.44 L398.61 440.38 L399.45 441.31 L400.29 442.24 L401.13 443.17 L401.98 444.09 L402.84 445.01 L403.69 445.92 L404.56 446.83 L405.42 447.73 L406.29 448.63 L407.17 449.53 L408.05 450.42 L408.93 451.3 L409.82 452.19 L410.72 453.06 L411.62 453.93 L412.52 454.8 L413.43 455.66 L414.34 456.52 L415.26 457.37 L416.19 458.21 L417.12 459.05 L418.06 459.89 L419 460.72 L419.94 461.54 L420.9 462.36 L421.86 463.17 L422.82 463.97 L423.79 464.77 L424.77 465.57 L425.75 466.35 L426.74 467.13 L427.73 467.91 L428.73 468.68 L429.74 469.44 L430.75 470.2 L431.77 470.94 L432.8 471.69 L433.84 472.42 L434.88 473.15 L435.92 473.87" stroke="#ffdab3"/>
</g>
<text x="238.5" y="512.9" text-anchor="end" font-size="14.2">0</text>
<text x="239.3" y="469.94" text-anchor="end" font-size="14.2">20</text>
<text x="239.3" y="426.98" text-anchor="end" font-size="14.2">40</text>
<text x="239.3" y="384.02" text-anchor="end" font-size="14.2">60</text>
<text x="239.3" y="341.06" text-anchor="end" font-size="14.2">80</text>
<text x="239.3" y="298.1" text-anchor="end" font-size="14.2">100</text>
<text x="330.2" y="525.8" text-anchor="middle" font-size="14.2">1</text>
<text x="424.1" y="525.8" text-anchor="middle" font-size="14.2">0.1</text>
<text x="518" y="525.8" text-anchor="middle" font-size="14.2">0.01</text>
<text x="381.7" y="542.8" text-anchor="middle" font-size="16"><tspan font-style="italic">d</tspan> (mm)</text>
<text transform="translate(209.6 389.6) rotate(-90)" text-anchor="middle" font-size="16"><tspan font-style="italic">P</tspan> (%)</text>
<text x="195.8" y="302.5" font-size="16">(c)</text>
<circle cx="372.6" cy="300.8" r="5.1" fill="url(#ball-c)"/>
<text x="390.45" y="304.9" font-size="12.4">Sand 4#</text>
<path d="M357.9 316.5 H387.8" stroke="#ff80c7" stroke-width="1.75" fill="none"/>
<text x="390.45" y="320.6" font-size="12.4">Zhu et al. (2018)</text>
<path d="M357.9 332.2 H387.8" stroke="#8fb2ea" stroke-width="1.75" fill="none"/>
<text x="390.45" y="336.3" font-size="12.4">Zhu et al. (2019)</text>
<path d="M357.9 347.9 H387.8" stroke="#b8e6b6" stroke-width="1.75" fill="none"/>
<text x="390.45" y="352" font-size="12.4">Talbot and Richart (1923)</text>
<path d="M357.9 363.6 H387.8" stroke="#ffdab3" stroke-width="1.75" fill="none"/>
<text x="390.45" y="367.7" font-size="12.4">Wu et al. (2020)</text>
</g>
</svg>
</body>
</html>
